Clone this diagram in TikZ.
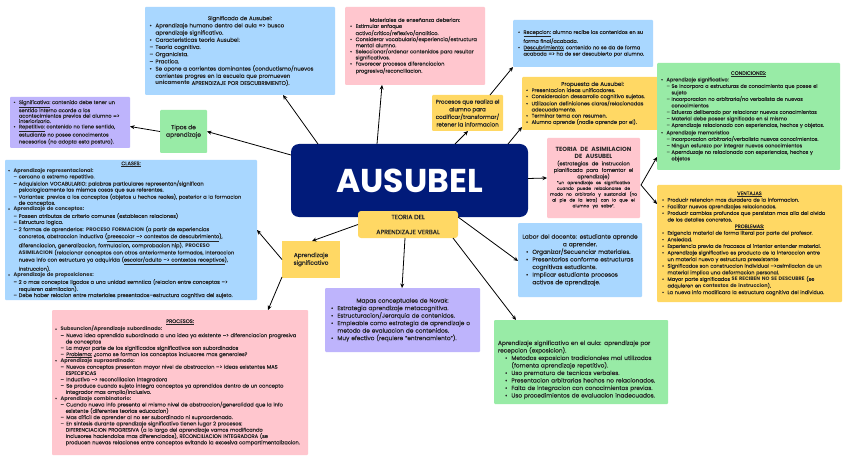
\documentclass[tikz,border=0pt]{standalone}
\usepackage{fontspec}
\setmainfont{Poppins}[UprightFeatures={FakeBold=0.35}]
\usetikzlibrary{arrows.meta,calc}
\definecolor{cblue}{HTML}{A9D7FF}
\definecolor{cpurple}{HTML}{BEB4FC}
\definecolor{cgreen}{HTML}{98EBA6}
\definecolor{cyellow}{HTML}{FFD864}
\definecolor{cpink}{HTML}{FFC6CE}
\definecolor{cnavy}{HTML}{011B7A}
\definecolor{ctxt}{HTML}{262626}
\newcommand\bu{\makebox[1.1em][l]{\textbullet}}
\newcommand\bc{\hspace*{1.1em}}
\newcommand\da{\hspace*{1.1em}\makebox[1em][l]{--}}
\newcommand\dc{\hspace*{2.1em}}
\newcommand\db{\makebox[1.1em][l]{--}}
\newcommand\fsz[2]{\fontsize{#1}{#2}\selectfont}
\begin{document}
\begin{tikzpicture}[x=1pt,y=-1pt,
 box/.style={rectangle, inner sep=0pt, outer sep=0pt, text=ctxt, rounded corners=1pt},
 arr/.style={-{Stealth[length=4.5pt,width=4pt]}, line width=0.8pt, black}]
\fill[white] (0,0) rectangle (848,457);
\useasboundingbox (0,0) rectangle (848,457);

% ---------- boxes ----------
\node[box, fill=cblue, minimum width=190pt, minimum height=88pt, text width=181pt, font=\fsz{5.45}{7.2}] (sig) at (240,51) {\centering Significado de Ausubel:\par\raggedright
\bu Aprendizaje humano dentro del aula => busco\\
\bc aprendizaje significativo.\\
\bu Caracteristicas teoria Ausubel:\\
\db Teoria cognitiva.\\
\db Organicista.\\
\db Practica.\\
\bu Se opone a corrientes dominantes (conductismo/nuevos\\
\bc corrientes progres en la escuela que promueven\\
\bc \textbf{unicamente} APRENDIZAJE POR DESCUBRIMIENTO).};

\node[box, fill=cpurple, minimum width=120pt, minimum height=51pt, text width=113pt, font=\fsz{5.0}{5.4}] (purp) at (70,122.5) {\raggedright
\bu \underline{Significativo:} contenido debe tener un\\
\bc sentido interno acorde a los\\
\bc acontecimientos previos del alumno =>\\
\bc interiorizarlo.\\
\bu \underline{Repetitivo:} contenido no tiene sentido,\\
\bc estudiante no posee conocimentos\\
\bc necesarios (no adopta esta postura).};

\node[box, fill=cgreen, minimum width=47pt, minimum height=43pt, align=center, font=\fsz{5.9}{7.5}] (tipos) at (183.5,131.5) {Tipos de\\aprendizaje};

\node[box, fill=cblue, minimum width=252pt, minimum height=140pt, text width=246pt, font=\fsz{5.1}{6.05}] (cla) at (131,230) {\centering \underline{CLASES:}\par\raggedright
\bu \textbf{Aprendizaje representacional:}\\
\da cercano a extremo repetitivo.\\
\da Adquisicion VOCABULARIO: palabras particulares representan/significan\\
\dc psicologicamente las mismas cosas que sus referentes.\\
\da Variantes: previos a los conceptos (objetos u hechos reales), posterior a la formacion\\
\dc de conceptos.\\
\bu \textbf{Aprendizaje de conceptos:}\\
\da Poseen atributos de criterio comunes (establecen relaciones)\\
\da Estructura logica.\\
\da 2 formas de aprenderlos: \textbf{PROCESO FORMACION} (a partir de experiencias\\
\dc concretos, abstraccion inductiva (\underline{preescolar --> contextos de descubrimiento}),\\
\dc diferenciacion, generalizacion, formulacion, comprobacion hip). \textbf{PROCESO}\\
\dc \textbf{ASIMILACION} (relacionar conceptos con otros anteriormente formados, interaccion\\
\dc nueva info con estructura ya adquirida (\underline{escolar/adulto --> contextos receptivos}),\\
\dc instruccion).\\
\bu \textbf{Aprendizaje de proposiciones:}\\
\da 2 o mas conceptos ligados a una unidad semntica (relacion entre conceptos -->\\
\dc requieren asimilacion).\\
\da Debe haber relacion entre materiales presentados--estructura cognitiva del sujeto.};

\node[box, fill=cpink, minimum width=256pt, minimum height=145pt, text width=250pt, font=\fsz{5.1}{6.3}] (pro) at (180,382.5) {\centering \underline{PROCESOS:}\par\raggedright
\bu \textbf{Subsuncion/Aprendizaje subordinado:}\\
\bc\db Nueva idea aprendida subordinada a una idea ya existente --> diferenciacion progresiva\\
\dc de conceptos\\
\bc\db La mayor parte de los significados significativos son subordinados\\
\bc\db \underline{Problema:} ¿como se forman los conceptos inclusores mas generales?\\
\bu \textbf{Aprendizaje supraordinado:}\\
\bc\db Nuevos conceptos presentan mayor nivel de abstraccion --> ideas existentes MAS\\
\dc ESPECIFICAS\\
\bc\db Inductivo --> reconciliacion integradora\\
\bc\db Se produce cuando sujeto integra conceptos ya aprendidos dentro de un concepto\\
\dc integrador mas amplio/inclusivo.\\
\bu \textbf{Aprendizaje combinatorio:}\\
\bc\db Cuando nueva info presenta el mismo nivel de abstraccion/generalidad que la info\\
\dc existente (diferentes teorias educacion)\\
\bc\db Mas dificil de aprender al no ser subordinado ni supraordenado.\\
\bc\db En sintesis durante aprendizaje significativo tienen lugar 2 procesos:\\
\dc DIFERENCIACION PROGRESIVA (a lo largo del aprendizaje vamos modificando\\
\dc inclusores haciendolos mas diferenciados), RECONCILIACION INTEGRADORA (se\\
\dc producen nuevas relaciones entre conceptos evitando la excesiva compartimentalizacion.};

\node[box, fill=cpink, minimum width=140pt, minimum height=78pt, text width=130pt, font=\fsz{5.1}{6.1}] (mat) at (415,46) {\centering Materiales de enseñanza deberian:\par\raggedright
\bu Estimular enfoque\\
\bc activo/critico/reflexivo/analitico.\\
\bu Considerar vocabulario/experiencia/estructura\\
\bc mental alumno.\\
\bu Seleccionar/ordenar contenidos para resultar\\
\bc significativos.\\
\bu Favorecer procesos diferenciacion\\
\bc progresiva/reconciliacion.};

\node[box, fill=cyellow, minimum width=71pt, minimum height=36pt, align=center, font=\fsz{5.6}{7.6}] (proc) at (467.5,113) {Procesos que realiza el\\alumno para\\codificar/transformar/\\retener la informacion};

\node[box, fill=cblue, minimum width=140pt, minimum height=47pt, text width=130pt, font=\fsz{5}{6.3}] (rec) at (583,43.5) {\raggedright
\bu \underline{Recepcion:} alumno recibe los contenidos en su\\
\bc forma final/acabada.\\
\bu \underline{Descubrimiento:} contenido no se da de forma\\
\bc acabada => ha de ser descubierto por alumno.};

\node[box, fill=cyellow, minimum width=141pt, minimum height=53pt, text width=133pt, font=\fsz{5.1}{6.3}] (prop) at (592.5,103.5) {\centering \fsz{5.6}{6.6}Propuesta de Ausubel:\par\raggedright\fsz{5.1}{6.1}
\bu Presentacion ideas unificadores.\\
\bu Consideracion dessarrollo cognitivo sujetos.\\
\bu Utilizacion definiciones claras/relacionadas\\
\bc adecuadamente.\\
\bu Terminar tema con resumen.\\
\bu Alumno aprende (nadie aprende por el).};

\node[box, fill=cnavy, rounded corners=8pt, minimum width=237pt, minimum height=73pt, text=white, font=\fsz{33}{36}\bfseries] (aus) at (409.5,180.5) {AUSUBEL};

\node[box, fill=cyellow, rounded corners=3pt, minimum width=100pt, minimum height=27pt, align=center, font=\fsz{6.3}{15}] (teo) at (408,224.5) {TEORIA DEL\\APRENDIZAJE VERBAL};

\node[box, fill=cpink, minimum width=93pt, minimum height=80pt, text width=93pt] (asim) at (593.5,178) {\centering
\fsz{6}{7}\bfseries TEORIA DE ASIMILACION\\DE AUSUBEL\par
\fsz{5.1}{6.5}\mdseries (estrategias de instruccion\\planificada para fomentar el\\aprendizaje)\par
\fsz{4.3}{5.8}"un aprendizaje es significativo\\cuando puede relacionarse de\\modo no arbitrario y sustancial (no\\al pie de la letra) con lo que el\\alumno ya sabe".\par};

\node[box, fill=cgreen, minimum width=183pt, minimum height=107pt, text width=175pt, font=\fsz{5}{6.5}] (cond) at (748.5,116.5) {\centering \underline{CONDICIONES:}\par\raggedright
\bu Aprendizaje significativo:\\
\da Se incorpora a estructuras de conocimiento que posee el\\
\dc sujeto\\
\da Incorporacion no arbitraria/no verbalista de nuevos\\
\dc conocimientos\\
\da Esfuerzo deliberado por relacionar nuevos conocimientos\\
\da Material debe poseer significado en si mismo\\
\da Aprendizaje relacionado con experiencias, hechos y objetos.\\[1pt]
\bu Aprendizaje memoristico\\
\da Incorporacion arbitraria/verbalista nuevos conocimientos.\\
\da Ningun esfurezo por integrar nuevos conocimientos\\
\da Apernduzaje no relacionado con experiencias, hechos y\\
\dc objetos};

\node[box, fill=cyellow, minimum width=185pt, minimum height=117pt, text width=175pt, font=\fsz{5}{6.6}] (vent) at (749.5,243.5) {\centering \underline{VENTAJAS}\par\raggedright
\bu Producir retencion mas duradera de la informacion.\\
\bu Facilitar nuevos aprendizajes relacionados.\\
\bu Producir cambios profundos que persistan mas alla del olvido\\
\bc de los detalles concretos.\par
\centering \underline{PROBLEMAS:}\par\raggedright
\bu Exigencia material de forma literal por parte del profesor.\\
\bu Ansiedad.\\
\bu Experiencia previa de fracasos al intentar entender material.\\
\bu Aprendizaje significativo es producto de la interaccion entre\\
\bc un material nuevo y estructura preexistente\\
\bu Significados son construccion individual -->asimilacion de un\\
\bc material implica una deformacion personal.\\
\bu Mayor parte significados \textbf{SE RECIBEN NO SE DESCUBRE} (se\\
\bc adquieren en \textbf{contextos de instruccion}).\\
\bu La nueva info modificara la estructura cognitiva del individuo.};

\node[box, fill=cyellow, minimum width=58pt, minimum height=37pt, align=center, rounded corners=0pt, font=\fsz{5.8}{7.7}] (apsig) at (311,259.5) {Aprendizaje\\significativo};

\node[box, fill=cblue, minimum width=124pt, minimum height=74pt, text width=118pt, font=\fsz{5.8}{7.6}] (labor) at (580,260) {\centering Labor del docente: estudiante aprende\\a aprender.\par\raggedright
\hspace*{5pt}\bu Organizar/Secuenciar materiales.\\
\hspace*{5pt}\bu Presentarlos conforme estructuras\\
\hspace*{5pt}\bc cognitivas estudiante.\\
\hspace*{5pt}\bu Implicar estudiante procesos\\
\hspace*{5pt}\bc activos de aprendizaje.};

\node[box, fill=cpurple, minimum width=155pt, minimum height=64pt, text width=143pt, font=\fsz{5.8}{7.5}] (mapas) at (402.5,320) {\centering Mapas conceptuales de Novak:\par\raggedright
\bu Estrategia aprendizaje metacognitiva.\\
\bu Estructuracion/Jerarquia de contenidos.\\
\bu Empleable como estrategia de aprendizaje o\\
\bc metodo de evaluacion de contenidos.\\
\bu Muy efectivo (requiere "entrenamiento").};

\node[box, fill=cgreen, minimum width=174pt, minimum height=84pt, text width=166pt, font=\fsz{5.8}{7.5}] (aula) at (581,362) {\raggedright
\rule{0pt}{20pt}Aprendizaje significativo en el aula: aprendizaje por\\
recepcion (exposicion).\\
\hspace*{7pt}\bu Metodos exposicion tradicionales mal utilizados\\
\hspace*{7pt}\bc (fomenta aprendizaje repetitivo).\\
\hspace*{7pt}\bu Uso prematuro de tecnicas verbales.\\
\hspace*{7pt}\bu Presentacion arbitrarias hechos no relacionados.\\
\hspace*{7pt}\bu Falta de integracion con conocimientos previos.\\
\hspace*{7pt}\bu Uso procedimientos de evaluacion inadecuados.};

% ---------- connectors ----------
\draw[arr] ($(aus.north west)+(27,0)$) -- ($(sig.south west)+(138,0)$);
\draw[arr] ($(aus.north west)+(86,0)$) -- ($(mat.south west)+(37,0)$);
\draw[arr] ($(aus.north west)+(0,11)$) -- (tipos.east);
\draw[arr] (tipos.west) -- ($(purp.east)+(0,4)$);
\draw[arr] ($(aus.north west)+(164,0)$) -- ($(proc.south west)+(36,0)$);
\draw[arr] ($(proc.north west)+(58,0)$) -- (rec.south west);
\draw[arr] ($(aus.north east)+(-20,0)$) -- ($(prop.south west)+(0,-3)$);
\draw[arr] ($(aus.east)+(0,-2)$) -- (asim.west);
\coordinate (fork) at ($(asim.east)+(1,7)$);
\draw[arr] (fork) -- ($(cond.south west)+(0,-13)$);
\draw[arr] (fork) -- ($(vent.north west)+(0,19)$);
\draw[arr] (teo.west) -- ($(apsig.north west)+(30,0)$);
\draw[arr] (apsig.west) -- ($(cla.north east)+(0,70)$);
\draw[arr] ($(apsig.south west)+(0,-1)$) -- ($(pro.north west)+(216,0)$);
\draw[arr] ($(teo.south west)+(47,0)$) -- ($(mapas.north west)+(77,0)$);
\draw[arr] ($(teo.north east)+(0,6)$) -- ($(labor.west)+(0,1)$);
\draw[arr] ($(teo.south east)+(-5,0)$) -- ($(aula.north west)+(22,0)$);
\end{tikzpicture}
\end{document}
